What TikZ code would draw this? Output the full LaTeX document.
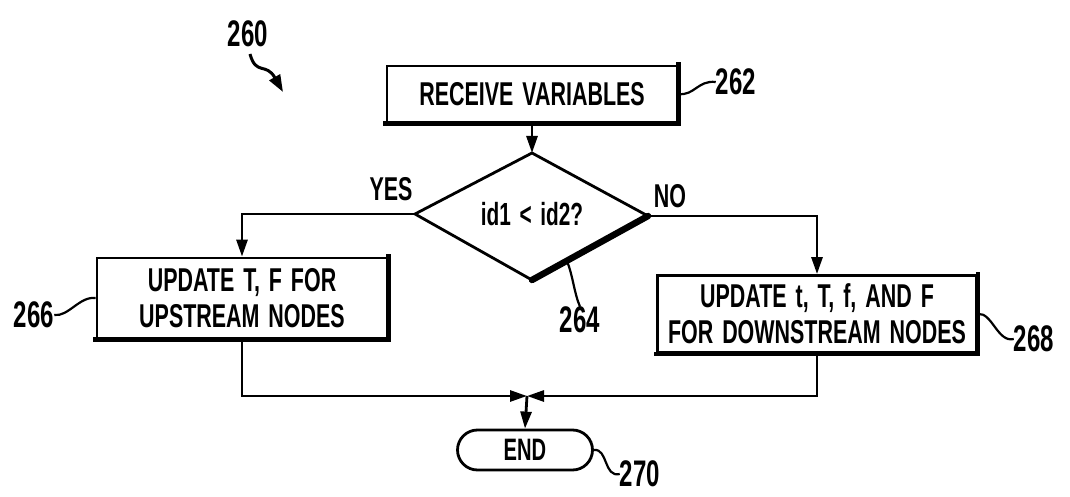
\documentclass[tikz,border=0pt]{standalone}
\usepackage{fontspec}
\newfontfamily\pfont[FakeStretch=0.65,WordSpace=1.5]{Liberation Sans Bold}
\usetikzlibrary{arrows.meta,calc}

\begin{document}
\begin{tikzpicture}[x=1pt,y=-1pt,
  every node/.style={inner sep=0pt},
  procbox/.style={draw, line width=2.8pt, align=center,
    font=\pfont\fontsize{33}{36}\selectfont},
  heavy/.style={line width=4.4pt, line cap=rect},
  flow/.style={line width=2.8pt, -{Triangle[length=17pt,width=11pt]}},
  plain/.style={line width=2.8pt},
  reflabel/.style={font=\pfont\fontsize{37}{40}\selectfont},
  leader/.style={line width=2.2pt},
  yesno/.style={font=\pfont\fontsize{33}{36}\selectfont}
]
\useasboundingbox (0,0) rectangle (1070,497);

% --- process boxes ---
\node[procbox, minimum width=290pt, minimum height=56pt] (recv) at (532,94) {RECEIVE VARIABLES};
\node[procbox, minimum width=290pt, minimum height=80pt] (up) at (242,298)
  {UPDATE T, F FOR\\UPSTREAM NODES};
\node[procbox, minimum width=319pt, minimum height=77pt] (down) at (817,314)
  {UPDATE t, T, f, AND F\\FOR DOWNSTREAM NODES};
\node[draw, line width=2.8pt, rounded corners=20pt, minimum width=135pt, minimum height=40pt,
  font=\pfont\fontsize{31}{34}\selectfont] (end) at (525,450) {END};

% heavier lower and right edges of the boxes
\foreach \b in {recv,up,down}{
  \draw[heavy] (\b.south west) -- (\b.south east) -- (\b.north east);
}

% --- decision diamond ---
\coordinate (dtop) at (532,153);
\coordinate (dleft) at (415,214);
\coordinate (dright) at (648,216);
\coordinate (dbot) at (532,280);
\node[font=\pfont\fontsize{32}{35}\selectfont] (cond) at (532,214) {id1 < id2?};
\draw[plain, line join=miter] (dbot) -- (dleft) -- (dtop) -- (dright);
\draw[line width=6.5pt, line cap=round] (dright) -- (dbot);

\node[yesno] (yes) at (391,189) {YES};
\node[yesno] (no) at (670,196) {NO};

% --- flow connectors ---
\coordinate (join) at (527,396);
\draw[flow] (recv.south) -- (dtop);
\draw[flow] (dleft) -| (up.north);
\draw[flow] (dright) -| (down.north);
\draw[flow] (up.south) |- (join);
\draw[flow] (down.south) |- (join);
\draw[flow] (join) -- (end.north);

% --- reference numerals and leaders ---
\node[reflabel] (l260) at (248,34) {260};
\draw[line width=3pt, -{Triangle[length=17pt,width=12pt]}]
  (250,54) .. controls (256,76) and (266,62) .. (283,92);

\node[reflabel] (l262) at (736,82) {262};
\draw[leader] (recv.east) .. controls ($(recv.east)+(16,2)$) and ($(l262.west)+(-18,-2)$) .. (l262.west);

\node[reflabel] (l264) at (580,320) {264};
\coordinate (d264) at ($(dright)!0.7!(dbot)$);
\draw[leader] (d264) .. controls ($(d264)+(6,14)$) and ($(l264.north)+(-6,-14)$) .. (l264.north);

\node[reflabel] (l266) at (34,315) {266};
\draw[leader] (l266.east) .. controls ($(l266.east)+(14,2)$) and ($(up.west)+(-16,-2)$) .. (up.west);

\node[reflabel] (l268) at (1034,339) {268};
\draw[leader] (down.east) .. controls ($(down.east)+(14,-2)$) and ($(l268.west)+(-16,4)$) .. (l268.west);

\node[reflabel] (l270) at (640,474) {270};
\draw[leader] (end.east) .. controls ($(end.east)+(14,-2)$) and ($(l270.west)+(-16,4)$) .. (l270.west);
\end{tikzpicture}
\end{document}
